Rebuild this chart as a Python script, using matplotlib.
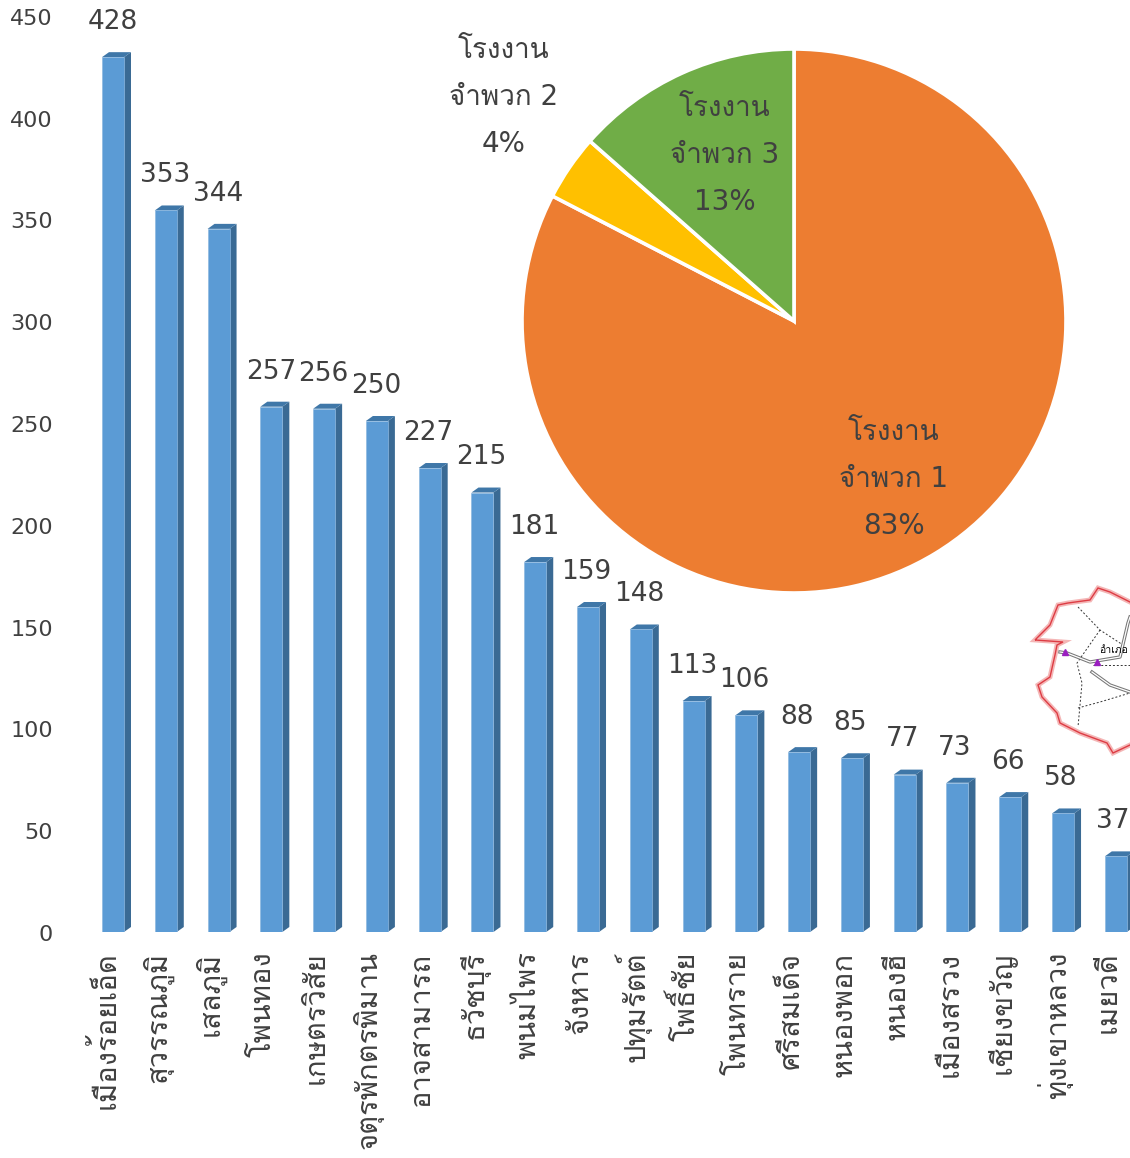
# -*- coding: utf-8 -*-
import matplotlib
matplotlib.use('Agg')
import matplotlib.pyplot as plt
from matplotlib import font_manager as fm
from matplotlib.patches import Polygon
from matplotlib.ft2font import FT2Font
from matplotlib.transforms import ScaledTranslation

districts = ['เมืองร้อยเอ็ด', 'สุวรรณภูมิ', 'เสลภูมิ', 'โพนทอง', 'เกษตรวิสัย',
             'จตุรพักตรพิมาน', 'อาจสามารถ', 'ธวัชบุรี', 'พนมไพร', 'จังหาร',
             'ปทุมรัตต์', 'โพธิ์ชัย', 'โพนทราย', 'ศรีสมเด็จ', 'หนองพอก',
             'หนองฮี', 'เมืองสรวง', 'เชียงขวัญ', 'ทุ่งเขาหลวง', 'เมยวดี']
factories = [428, 353, 344, 257, 256, 250, 227, 215, 181, 159,
             148, 113, 106, 88, 85, 77, 73, 66, 58, 37]
y_ticks = [0, 50, 100, 150, 200, 250, 300, 350, 400, 450]

pie_shares = [82.6, 3.9, 13.5]
pie_colors = ['#ED7D31', '#FFC000', '#70AD47']
pie_labels = ['โรงงาน\nจำพวก 1\n83%', 'โรงงาน\nจำพวก 2\n4%', 'โรงงาน\nจำพวก 3\n13%']
pie_label_pos = [(894, 479), (504, 97), (725, 155)]

# แผนที่จังหวัด (พิกเซลบนรูป)
map_outline = [(1035, 640), (1050, 625), (1058, 605), (1068, 603), (1090, 600),
               (1098, 588), (1110, 592), (1130, 602), (1145, 610), (1145, 738),
               (1130, 745), (1113, 753), (1107, 743), (1080, 733), (1060, 723),
               (1057, 713), (1042, 697), (1038, 685), (1050, 677), (1055, 655),
               (1057, 645), (1063, 642)]
map_dashes = [[(1078, 607), (1100, 630), (1123, 645)],
              [(1100, 630), (1077, 663), (1082, 683), (1078, 727)],
              [(1078, 708), (1100, 702), (1130, 693)],
              [(1093, 665), (1130, 665)]]
map_roads = [[(1060, 652), (1067, 653), (1090, 662), (1120, 657), (1128, 623), (1130, 617)],
             [(1092, 672), (1110, 685), (1130, 692)]]
map_towns = [(1065, 652), (1097, 662)]


def find_thai_font():
    for f in fm.fontManager.ttflist:
        try:
            if 0x0E01 in FT2Font(f.fname).get_charmap():
                return f.name
        except Exception:
            pass
    return None


thai = find_thai_font()
families = ['DejaVu Sans']
if thai:
    families.append(thai)
plt.rcParams['font.family'] = families
text_color = '#404040'

W, H = 1130, 1158
fig = plt.figure(figsize=(W / 100, H / 100), dpi=100)

# แท่ง 3 มิติ
left, bottom = 60, 932
px_x, px_y = 52.78, 2.044
ax = fig.add_axes([left / W, (H - bottom) / H, (W - left) / W, bottom / H])
ax.set_xlim((left - 113) / px_x, (W - 113) / px_x)
ax.set_ylim(0, bottom / px_y)
bar_w = 22 / px_x
dx, dy = 7 / px_x, 5 / px_y
xs = list(range(len(factories)))
ax.bar(xs, factories, width=bar_w, color='#5B9BD5', edgecolor='#8DB8E0', linewidth=0.5, zorder=3)
for x, v in zip(xs, factories):
    r = x + bar_w / 2
    l = x - bar_w / 2
    ax.add_patch(Polygon([(r, 0), (r + dx, dy), (r + dx, v + dy), (r, v)],
                         facecolor='#3A6A94', edgecolor='none', zorder=2))
    ax.add_patch(Polygon([(l, v), (r, v), (r + dx, v + dy), (l + dx, v + dy)],
                         facecolor='#3F77A8', edgecolor='none', zorder=2))
    # ป้ายค่าค่อยๆ เยื้องซ้ายตามแท่ง
    ax.text(x * 0.997, v + 17.2, str(v), ha='center', va='center', fontsize=19,
            color=text_color, zorder=4)

ax.set_xticks(xs, districts, rotation=90, fontsize=21, color=text_color)
ax.set_yticks([])
ax.tick_params(axis='x', length=0, pad=14)
shift = ScaledTranslation(-6 / 72, 0, fig.dpi_scale_trans)
for t in ax.get_xticklabels():
    t.set_transform(t.get_transform() + shift)
for s in ax.spines.values():
    s.set_visible(False)
ax.patch.set_visible(False)

# แกน y ของรูปนี้สเกลต่างจากแท่งเล็กน้อย (ผลจากมุมมอง 3 มิติ)
tick_bottom, tick_px = 933, 2.036
ax_y = fig.add_axes([left / W, (H - tick_bottom) / H, 0.01, tick_bottom / H])
ax_y.set_ylim(0, tick_bottom / tick_px)
ax_y.set_yticks(y_ticks)
ax_y.set_xticks([])
ax_y.tick_params(axis='y', labelsize=16, labelcolor=text_color, length=0, pad=5)
for s in ax_y.spines.values():
    s.set_visible(False)
ax_y.patch.set_visible(False)

# วงกลม
pie_ax = fig.add_axes([522 / W, (H - 593) / H, 544 / W, 544 / H])
pie_ax.pie(pie_shares, colors=pie_colors, startangle=90, counterclock=False, radius=1,
           wedgeprops={'edgecolor': 'white', 'linewidth': 2.6})
pie_ax.set_xlim(-1, 1)
pie_ax.set_ylim(-1, 1)
pie_ax.patch.set_visible(False)

# ชั้นพิกเซลสำหรับป้ายวงกลมและแผนที่
over = fig.add_axes([0, 0, 1, 1])
over.set_xlim(0, W)
over.set_ylim(H, 0)
over.axis('off')
over.patch.set_visible(False)
for (px, py), lab in zip(pie_label_pos, pie_labels):
    over.text(px, py, lab, ha='center', va='center', fontsize=20, color=text_color,
              linespacing=1.85, multialignment='center')

over.add_patch(Polygon(map_outline, closed=True, facecolor='white', edgecolor='#F4B6B6', linewidth=3.5))
over.add_patch(Polygon(map_outline, closed=True, facecolor='none', edgecolor='#D81E28', linewidth=1.0, alpha=0.8))
for line in map_dashes:
    over.plot(*zip(*line), color='#333333', linewidth=0.7, linestyle=(0, (2, 2)))
for line in map_roads:
    over.plot(*zip(*line), color='#777777', linewidth=2.4)
    over.plot(*zip(*line), color='white', linewidth=0.9)
over.plot(*zip(*map_towns), linestyle='none', marker='^', markersize=4, color='#9A1FC0')
over.text(1099, 650, 'อำเภอ', fontsize=7.5, color='black', ha='left', va='center')

fig.savefig('out.png', dpi=100)
